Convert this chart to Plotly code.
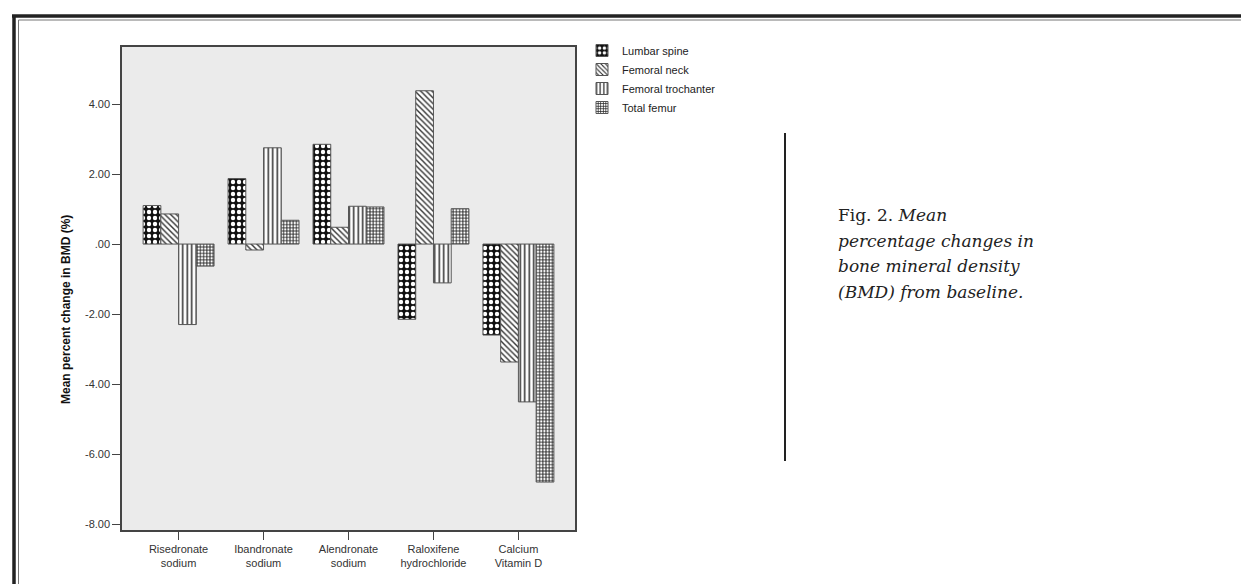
import plotly.graph_objects as go

# ---- data ----
categories = ["Risedronate<br>sodium", "Ibandronate<br>sodium", "Alendronate<br>sodium",
              "Raloxifene<br>hydrochloride", "Calcium<br>Vitamin D"]
series_names = ["Lumbar spine", "Femoral neck", "Femoral trochanter", "Total femur"]
lumbar_spine = [1.10, 1.87, 2.85, -2.15, -2.60]
femoral_neck = [0.86, -0.17, 0.48, 4.38, -3.37]
femoral_trochanter = [-2.30, 2.75, 1.08, -1.11, -4.51]
total_femur = [-0.63, 0.68, 1.06, 1.01, -6.80]
y_tick_vals = [-8, -6, -4, -2, 0, 2, 4]
y_tick_text = ["-8.00", "-6.00", "-4.00", "-2.00", ".00", "2.00", "4.00"]
caption_lines = ["Fig. 2. <i>Mean</i>", "<i>percentage changes in</i>",
                 "<i>bone mineral density</i>", "<i>(BMD) from baseline.</i>"]

series_values = [lumbar_spine, femoral_neck, femoral_trochanter, total_femur]
patterns = [
    dict(shape=".", bgcolor="#111111", fgcolor="#ffffff", size=6, solidity=0.42, fillmode="replace"),
    dict(shape="\\", bgcolor="#ffffff", fgcolor="#333333", size=4, solidity=0.35, fillmode="replace"),
    dict(shape="|", bgcolor="#ffffff", fgcolor="#333333", size=4.5, solidity=0.35, fillmode="replace"),
    dict(shape="+", bgcolor="#ffffff", fgcolor="#222222", size=3.2, solidity=0.5, fillmode="replace"),
]

fig = go.Figure()
for name, vals, pat in zip(series_names, series_values, patterns):
    fig.add_trace(go.Bar(
        x=categories, y=vals, name=name,
        marker=dict(color="#ffffff", pattern=pat, line=dict(color="#555555", width=1)),
    ))

W, H = 1249, 584
L, R, T, B = 114, 567, 39, 522
pw, ph = R - L, B - T

def px(x):
    return (x - L) / pw

def py(y):
    return (B - y) / ph

fig.update_layout(
    width=W, height=H,
    margin=dict(l=L, r=W - R, t=T, b=H - B, pad=0),
    paper_bgcolor="#ffffff",
    plot_bgcolor="#ebebeb",
    barmode="group", bargap=0.165, bargroupgap=0,
    font=dict(family="Liberation Sans, Arial, sans-serif", size=11, color="#222222"),
    showlegend=True,
    legend=dict(x=px(574), y=py(28), xanchor="left", yanchor="top",
                bgcolor="rgba(0,0,0,0)", font=dict(size=11, color="#222222"),
                tracegroupgap=0, itemwidth=30),
    xaxis=dict(range=[-0.666, 4.666], showgrid=False, zeroline=False,
               showline=True, linecolor="#444444", linewidth=1.5, mirror=True,
               ticks="outside", ticklen=8, tickcolor="#444444",
               tickfont=dict(size=11, color="#333333")),
    yaxis=dict(range=[-8.17, 5.63], showgrid=False, zeroline=False,
               showline=True, linecolor="#444444", linewidth=1.5, mirror=True,
               ticks="outside", ticklen=8, tickcolor="#444444",
               tickvals=y_tick_vals, ticktext=y_tick_text,
               tickfont=dict(size=11, color="#333333")),
)

# y-axis title
fig.add_annotation(text="<b>Mean percent change in BMD (%)</b>", xref="paper", yref="paper",
                   x=px(58), y=py(302), textangle=-90, showarrow=False,
                   font=dict(size=12, color="#111111"), xanchor="center", yanchor="middle")

# caption lines
for i, line in enumerate(caption_lines):
    fig.add_annotation(text=line, xref="paper", yref="paper", x=px(828), y=py(207 + 25.5 * i),
                       showarrow=False, xanchor="left", yanchor="middle",
                       font=dict(family="DejaVu Serif, serif", size=17, color="#222222"))

# vertical rule beside caption
fig.add_shape(type="line", xref="paper", yref="paper", x0=px(777), x1=px(777),
              y0=py(125), y1=py(453), line=dict(color="#222222", width=2))

# outer frame (top & left, double line)
fig.add_shape(type="line", xref="paper", yref="paper", x0=px(4), x1=px(1249),
              y0=py(8), y1=py(8), line=dict(color="#222222", width=3.5))
fig.add_shape(type="line", xref="paper", yref="paper", x0=px(6), y0=py(8), x1=px(6), y1=py(584),
              line=dict(color="#222222", width=3.5))
fig.add_shape(type="line", xref="paper", yref="paper", x0=px(10.5), x1=px(1249),
              y0=py(12), y1=py(12), line=dict(color="#777777", width=1))
fig.add_shape(type="line", xref="paper", yref="paper", x0=px(10.5), y0=py(12), x1=px(10.5), y1=py(584),
              line=dict(color="#777777", width=1))

fig.write_html("out.html")
